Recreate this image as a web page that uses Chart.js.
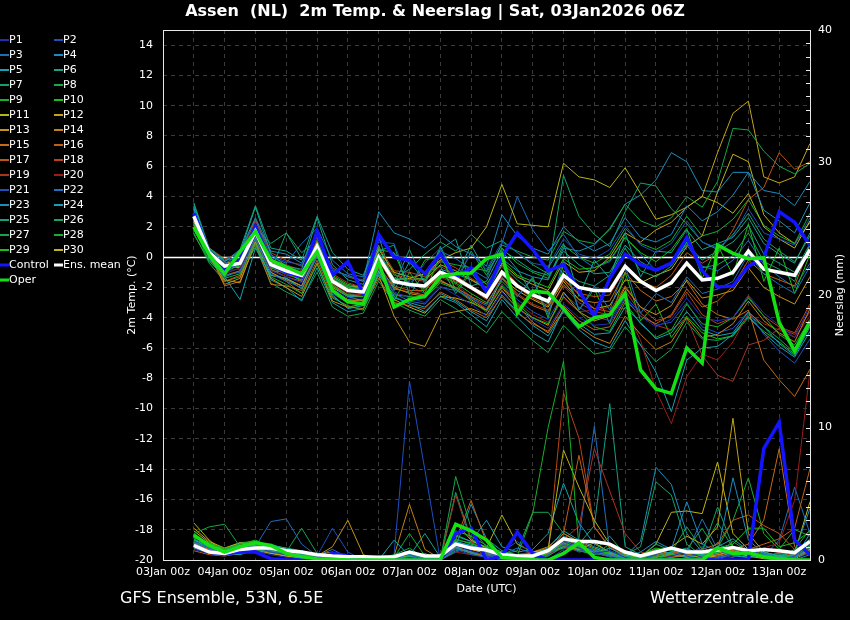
<!DOCTYPE html>
<html>
<head>
<meta charset="utf-8">
<title>Assen 2m Temp. & Neerslag</title>
<script src="https://cdn.jsdelivr.net/npm/chart.js"></script>
<style>
    html, body { margin: 0; padding: 0; background: #000; }
    #wrap { width: 850px; height: 620px; }
</style>
</head>
<body>
<div id="wrap"><canvas id="chart" width="850" height="620"></canvas></div>
<script>
// forecast hours after 03Jan 00z, every 6h
var hours = [12,18,24,30,36,42,48,54,60,66,72,78,84,90,96,102,108,114,120,126,132,
             138,144,150,156,162,168,174,180,186,192,198,204,210,216,222,228,234,240,246,252];
var dayLabels = ['03Jan 00z','04Jan 00z','05Jan 00z','06Jan 00z','07Jan 00z','08Jan 00z',
                 '09Jan 00z','10Jan 00z','11Jan 00z','12Jan 00z','13Jan 00z'];
var tempTicks = [-20,-18,-16,-14,-12,-10,-8,-6,-4,-2,0,2,4,6,8,10,12,14];
var rainTicks = [0,10,20,30,40];

// 2m temperature (°C)
var tMean = [2.7,0.3,-0.6,-0.4,1.7,-0.5,-0.9,-1.2,0.7,-1.6,-2.2,
    -2.3,0.0,-1.6,-1.8,-1.9,-1.0,-1.4,-2.0,-2.6,-1.0,
    -1.9,-2.5,-2.9,-1.2,-2.0,-2.2,-2.2,-0.6,-1.6,-2.2,
    -1.7,-0.4,-1.5,-1.4,-1.0,0.4,-0.8,-1.0,-1.2,0.5];
var tControl = [2.9,0.3,-0.9,-0.2,2.0,-0.5,-1.0,-1.3,1.7,-1.2,-0.3,
    -2.4,1.5,0.0,-0.2,-1.1,0.2,-1.3,-0.7,-2.3,0.0,
    1.6,0.5,-0.9,-0.5,-2.2,-3.9,-1.4,0.2,-0.5,-0.85,
    -0.4,1.3,-0.9,-1.97,-1.9,-0.6,-0.05,3.0,2.3,0.75];
var tOper = [2.0,0.15,-1.1,0.35,1.7,-0.2,-0.65,-1.1,0.35,-2.2,-2.95,
    -3.1,-0.35,-3.3,-2.8,-2.6,-1.3,-1.1,-1.05,-0.1,0.2,
    -3.7,-2.25,-2.35,-3.4,-4.6,-4.0,-3.8,-2.4,-7.45,-8.7,
    -9.0,-6.0,-7.0,0.8,0.25,-0.1,-0.05,-4.3,-6.2,-4.25];

var tP1 = [2.5,0.2,-0.9,-0.8,1.4,-0.9,-1.3,-1.7,0.3,-2.1,-2.7,
    -2.7,-0.5,-2.3,-2.7,-3.0,-1.9,-2.5,-3.1,-3.9,-2.3,
    -3.4,-4.1,-4.7,-3.1,-4.0,-4.5,-4.4,-2.7,-3.9,-4.6,
    -4.1,-2.7,-4.0,-4.2,-4.0,-2.5,-3.7,-4.5,-5.3,-3.2];
var tP2 = [2.9,0.4,-0.4,0.1,2.2,0.1,-0.3,-0.5,1.4,-0.8,-1.3,
    -1.5,1.0,0.9,-1.8,-0.4,0.6,-1.5,0.3,-0.8,1.0,
    0.3,-0.4,-0.6,1.2,0.2,-0.1,0.5,2.1,0.8,0.3,
    0.9,2.4,1.0,0.6,1.4,3.2,1.6,1.2,0.8,2.6];
var tP3 = [2.6,0.1,-1.2,-1.0,1.2,-1.1,-1.6,-2.0,0.0,-2.4,-3.0,
    -3.0,-0.8,-2.4,-2.9,-3.1,-2.0,-2.2,-2.7,-3.2,-1.4,
    -2.6,-1.3,-3.8,-0.2,-3.5,-1.9,-3.5,-0.6,-3.7,-2.4,
    -3.0,-1.3,-2.4,-2.1,-1.6,0.2,-1.1,-1.8,-2.4,-0.6];
var tP4 = [3.1,0.5,-0.3,0.4,2.6,0.4,0.2,-0.4,1.6,-0.9,-1.2,
    -1.6,3.0,1.6,1.2,0.6,1.5,0.7,0.2,-0.6,2.8,
    1.4,0.6,0.2,2.0,1.0,0.4,0.9,2.6,1.3,1.0,
    1.5,3.4,2.4,3.0,4.1,5.6,4.4,4.2,3.4,5.0];
var tP5 = [3.3,0.0,-1.3,-2.8,0.6,-1.2,-1.4,-2.1,0.2,-2.5,-3.4,
    -3.2,-1.0,-2.6,-3.1,-3.6,-2.6,-3.0,-3.8,-4.6,-2.8,
    -4.0,-5.0,-5.6,-3.4,-4.4,-5.1,-5.0,-3.3,-4.3,-5.4,
    -5.0,-3.6,-4.8,-5.2,-5.0,-3.6,-4.6,-5.7,-6.5,-4.6];
var tP6 = [3.5,0.4,-0.5,0.3,3.3,0.2,-0.6,-0.8,2.6,-0.5,-1.5,
    -1.8,0.8,-2.2,-0.3,-1.6,0.5,1.2,-1.9,-1.6,0.4,
    -0.8,-2.5,-0.7,0.9,-2.6,-0.2,-1.4,1.6,-1.3,0.4,
    0.3,1.8,0.5,0.9,1.3,2.6,0.9,0.2,-0.4,1.6];
var tP7 = [2.2,0.6,-0.2,-0.1,1.9,0.9,1.6,0.3,1.1,-1.3,-1.9,
    -2.1,0.4,0.8,-2.5,-1.0,-0.6,-2.4,-1.0,-2.4,-0.5,
    -1.5,-2.3,-3.1,-0.9,-1.6,-1.9,-1.2,0.6,-0.9,-1.3,
    -0.6,1.0,-0.7,-0.5,0.1,1.6,-0.3,-0.8,-1.6,0.9];
var tP8 = [2.0,0.1,-0.8,-0.6,1.5,-0.4,-0.7,-1.0,0.9,-1.4,-2.0,
    -2.2,0.3,-1.4,-1.5,-1.4,-0.3,-0.5,-0.7,-0.9,0.8,
    0.4,0.0,-0.2,1.7,1.1,0.9,1.8,3.5,2.4,2.0,
    2.6,4.0,3.3,5.0,8.5,8.4,7.0,6.0,5.5,6.2];
var tP9 = [1.5,-0.2,-1.4,-1.1,0.9,-1.3,-1.8,-2.4,-0.5,-2.7,-3.2,
    -3.5,-1.2,-2.5,-2.6,-2.7,-1.7,-2.1,-2.9,-3.6,-1.9,
    -3.1,-4.0,-4.4,-2.6,-3.6,-4.6,-4.9,-3.0,-4.4,-5.3,
    -4.8,-3.1,-4.4,-4.6,-4.0,-2.7,-3.9,-5.1,-5.8,-4.1];
var tP10 = [1.8,0.0,-1.0,-0.5,1.2,-0.7,-1.1,-1.5,0.5,-1.9,-2.5,
    -2.6,-0.3,-2.9,-1.0,-2.4,0.2,-2.2,-0.9,-1.8,-0.2,
    -1.2,-1.6,-2.0,-0.1,-0.8,-0.7,-0.2,1.3,0.3,-0.3,
    0.5,1.9,-1.4,0.8,-1.2,2.2,-1.6,0.6,-2.4,0.2];
var tP11 = [2.3,0.2,-0.5,-0.3,1.8,-0.6,-1.0,-1.2,0.8,-1.5,-2.0,
    -2.4,-0.2,-1.5,-1.4,-1.1,-0.2,0.3,0.6,2.0,4.8,
    2.2,2.1,2.0,6.2,5.3,5.1,4.6,5.9,4.2,2.5,
    2.8,3.3,4.0,3.6,2.9,4.2,2.0,1.2,0.6,2.4];
var tP12 = [2.4,0.4,-0.4,-0.2,2.0,-0.3,-0.8,-1.1,1.0,-1.3,-1.9,
    -2.0,0.5,-1.0,-1.3,-1.5,-0.5,-0.9,-1.5,-2.1,-0.4,
    -1.3,-1.8,-2.2,-0.3,-1.0,-0.9,0.0,1.6,1.0,1.8,
    2.3,3.3,4.0,6.9,9.5,10.3,5.3,4.9,5.3,7.5];
var tP13 = [2.1,0.0,-1.5,-1.7,1.0,-1.4,-2.0,-2.6,-0.4,-2.9,-3.3,
    -3.1,-1.2,-3.9,-5.6,-5.9,-3.8,-3.6,-3.4,-3.8,-2.2,
    -3.4,-4.0,-4.5,-2.3,-3.6,-4.2,-3.9,-2.0,-3.3,-3.8,
    -3.2,-1.5,-2.7,-2.5,-2.2,-0.7,-2.0,-2.6,-3.1,-1.3];
var tP14 = [2.5,0.3,-1.8,-1.4,1.3,-1.0,-1.5,-1.9,0.4,-2.2,-2.8,
    -2.9,-0.6,-2.0,-2.4,-2.6,-1.5,-2.1,-2.8,-3.5,-2.0,
    -3.2,-4.3,-5.0,-3.5,-4.6,-5.3,-5.7,-3.9,-5.1,-6.1,
    -5.6,-4.0,-5.3,-5.1,-4.4,-2.9,-4.2,-5.0,-5.6,-3.4];
var tP15 = [2.6,0.2,-1.9,-1.6,0.9,-1.8,-1.9,-2.2,0.1,-2.3,-2.9,
    -2.8,-0.7,-2.1,-2.3,-2.5,-1.6,-2.0,-2.6,-3.1,-1.4,
    -2.5,-3.2,-3.6,-1.8,-2.8,-3.0,-2.9,-1.0,-2.2,-2.9,
    -2.6,-1.6,-3.1,-3.8,-4.1,-3.5,-6.8,-8.1,-9.2,-7.4];
var tP16 = [2.8,0.1,-1.6,-1.2,1.1,-1.0,-1.6,-2.4,-0.2,-2.6,-3.3,
    -3.4,-1.4,-3.0,-3.2,-3.4,-2.3,-2.8,-3.5,-4.0,-2.6,
    -3.7,-4.4,-4.9,-3.2,-4.2,-4.8,-4.6,-2.8,-3.9,-4.4,
    -3.8,-2.1,-3.3,-2.9,-1.9,-0.2,-1.1,-1.5,-1.9,0.8];
var tP17 = [2.4,0.3,-1.2,-0.9,1.5,-0.8,-1.3,-1.6,0.6,-1.8,-2.5,
    -2.6,-0.2,-1.9,-2.2,-2.2,-1.1,-1.6,-2.1,-2.8,-1.2,
    -2.0,-2.7,-3.2,-1.5,-2.4,-2.6,-2.5,-0.7,-1.6,-2.0,
    -1.2,0.3,-0.4,0.2,1.8,3.8,4.6,6.9,5.8,6.3];
var tP18 = [2.3,0.6,-0.1,0.2,2.4,0.3,-0.2,-0.6,1.3,-0.7,-1.3,
    -1.6,0.7,-0.9,-1.0,-1.3,-0.2,-0.7,-1.4,-2.0,-0.6,
    -1.8,-2.6,-3.0,-1.4,-2.5,-3.4,-3.6,-1.9,-3.3,-4.2,
    -3.9,-2.3,-3.8,-4.4,-4.0,-2.6,-3.9,-4.6,-5.0,-3.1];
var tP19 = [2.6,0.4,-0.8,-0.3,2.1,-0.2,-0.5,-0.9,1.1,-1.1,-1.7,
    -2.0,0.3,-1.2,-1.4,-1.6,-0.6,-1.2,-1.9,-2.7,-1.3,
    -2.4,-3.1,-3.5,-1.9,-3.0,-3.6,-3.8,-2.2,-3.7,-4.5,
    -4.8,-4.0,-6.5,-7.8,-8.2,-5.8,-5.5,-4.7,-5.1,-3.6];
var tP20 = [2.7,0.1,-1.1,-0.7,1.6,-0.6,-1.2,-1.4,0.5,-1.7,-2.4,
    -2.5,-0.4,-2.4,-2.6,-2.1,-1.3,-1.8,-2.6,-3.5,-1.8,
    -3.0,-3.8,-4.3,-2.7,-3.6,-3.5,-3.3,-3.4,-5.5,-8.8,
    -11.0,-7.9,-6.4,-6.8,-5.6,-3.7,-4.4,-4.8,-5.3,-3.9];
var tP21 = [2.8,0.3,-0.7,-0.6,1.9,-0.4,-0.8,-1.2,1.0,-1.4,-2.0,
    -2.1,0.2,-1.5,-1.9,-2.4,-1.6,-2.0,-2.7,-3.4,-1.8,
    -2.8,-3.6,-4.1,-2.4,-3.3,-3.9,-4.2,-2.6,-3.7,-4.5,
    -4.3,-3.0,-4.6,-5.0,-4.7,-3.6,-5.1,-6.2,-7.0,-5.4];
var tP22 = [3.0,0.5,-0.2,0.3,2.5,0.0,-0.4,0.9,1.9,-0.2,-1.1,
    -1.3,1.2,0.2,-0.4,-1.0,0.4,-0.1,-0.8,-1.4,0.9,
    4.0,1.8,0.4,1.5,0.0,-0.7,-0.3,1.3,0.2,-0.9,
    -0.5,0.8,-0.6,-0.9,-0.2,1.1,-0.5,-1.3,-2.0,-0.4];
var tP23 = [3.2,0.2,-0.9,-0.4,1.8,-0.9,-1.0,-1.6,0.4,-1.9,-2.6,
    -2.6,-0.1,-1.7,-1.9,-2.0,-0.8,-1.1,-1.5,-2.0,-0.1,
    -0.9,-1.3,-1.5,0.6,0.4,0.8,1.9,3.5,4.1,5.1,
    6.9,6.3,4.4,4.3,5.6,5.6,3.1,2.4,1.6,3.6];
var tP24 = [2.9,-0.1,-1.3,-0.9,1.0,-1.5,-2.0,-2.9,-0.7,-3.0,-3.6,
    -3.4,-1.1,-2.7,-3.0,-3.3,-2.4,-2.9,-3.6,-4.2,-2.5,
    -3.6,-4.5,-5.2,-3.6,-4.8,-5.6,-6.0,-4.2,-5.8,-7.6,
    -10.2,-6.8,-6.0,-5.9,-5.1,-3.9,-5.0,-5.9,-6.6,-4.9];
var tP25 = [3.6,0.6,-0.3,0.5,3.4,0.6,0.4,-0.2,2.7,0.3,-0.8,
    -1.2,1.4,-1.9,0.5,-1.8,0.7,-1.3,0.8,-1.0,0.5,
    -0.2,-0.9,-1.2,0.4,-0.5,-1.1,-1.0,0.8,-0.3,-0.9,
    -0.4,0.9,-0.2,0.4,1.0,2.1,0.2,-0.4,-1.0,0.9];
var tP26 = [2.0,-0.3,-1.1,-0.2,0.8,-0.9,1.6,-0.1,0.2,-1.8,-2.5,
    -2.4,0.1,-1.4,-0.8,0.2,1.0,0.4,1.5,0.6,1.1,
    0.3,-0.5,-1.1,5.4,2.7,1.5,0.7,3.0,4.9,4.7,
    3.2,2.2,1.0,0.5,1.5,2.9,1.2,0.4,-0.3,1.4];
var tP27 = [1.6,-0.4,-1.6,-1.3,0.7,-1.7,-2.3,-2.8,-1.0,-3.3,-3.9,
    -3.7,-1.6,-3.0,-3.5,-3.9,-2.8,-3.4,-4.2,-5.0,-3.6,
    -4.6,-5.5,-6.3,-4.5,-5.5,-6.4,-6.2,-4.6,-5.8,-6.9,
    -6.1,-4.3,-5.4,-5.5,-5.2,-3.8,-4.6,-5.4,-6.3,-4.4];
var tP28 = [2.2,0.0,-0.9,-0.3,1.6,-0.6,-1.0,-1.3,0.8,-1.5,-2.1,
    -2.0,0.5,0.3,-2.0,-0.2,0.1,-1.8,0.4,-1.2,0.6,
    -0.4,-1.0,-1.4,0.8,0.0,-0.4,0.2,1.9,0.9,0.5,
    1.1,2.7,1.4,1.7,2.5,3.8,2.1,1.4,0.9,2.9];
var tP29 = [1.9,0.1,-0.7,-0.4,1.5,-0.2,-0.8,-1.0,0.9,-1.2,-1.8,
    -2.0,0.6,-1.1,-1.7,-2.1,-1.2,-1.7,-2.4,-3.0,-1.6,
    -2.6,-1.4,-4.0,-0.5,-3.5,-2.1,-4.4,-1.0,-4.2,-3.1,
    -5.3,-3.9,-5.0,-5.4,-5.2,-4.0,-4.9,-5.6,-6.4,-4.5];
var tP30 = [2.4,0.2,-0.6,-0.7,1.4,-1.2,-1.4,-1.9,0.3,-2.0,-2.6,
    -2.9,-0.9,-2.8,-3.3,-3.7,-2.6,-2.7,-3.0,-3.5,-1.4,
    -2.2,-2.8,-3.3,-1.6,-2.8,-3.4,-3.2,-1.5,-1.7,-1.2,
    -0.8,0.7,1.4,4.3,6.8,6.3,2.8,1.6,0.9,2.3];

// precipitation per 6h (mm)
var pMean = [1.1,0.6,0.5,0.8,0.9,0.9,0.7,0.6,0.4,0.3,0.25,
    0.25,0.2,0.25,0.6,0.3,0.3,1.2,0.9,0.75,0.4,
    0.3,0.3,0.7,1.6,1.4,1.4,1.2,0.6,0.3,0.6,
    0.9,0.6,0.6,0.75,0.95,0.7,0.8,0.7,0.55,1.4];
var pControl = [1.1,0.6,0.5,0.6,0.6,0.1,0.0,0.0,0.1,0.5,0.3,
    0.0,0.0,0.0,0.0,0.0,0.0,2.0,2.4,0.0,0.3,
    2.1,0.5,0.0,0.0,0.0,0.0,0.0,0.0,0.0,0.0,
    0.0,0.0,0.0,0.0,0.0,0.0,8.4,10.4,1.5,0.4];
var pOper = [1.9,1.1,0.6,1.0,1.3,1.1,0.5,0.25,0.1,0.05,0.0,
    0.0,0.0,0.0,0.0,0.0,0.0,2.7,2.2,1.5,0.2,
    0.1,0.0,0.0,0.5,1.3,0.2,0.0,0.0,0.0,0.0,
    0.0,0.0,0.0,0.9,0.5,0.55,0.25,0.1,0.0,0.0];

var pP1 = [0.8,0.5,0.3,0.6,0.7,0.4,0.2,0.1,0.0,0.2, 0.0,0.0,0.0,0.0,0.2,0.0,0.0,1.1,0.7,0.3, 0.0,0.0,0.3,0.6,1.4,0.9,0.5,0.7,0.2,0.0, 0.0,0.3,0.6,0.2,0.0,0.4,0.9,0.3,0.1,0.0, 0.6];
var pP2 = [1.2,0.7,0.4,0.9,1.0,0.6,0.4,0.2,0.3,2.4, 0.6,0.0,0.0,0.2,0.4,0.0,0.1,0.8,0.4,0.2, 0.6,1.4,0.4,0.0,0.8,1.6,0.6,0.2,0.0,0.0, 0.4,1.0,0.3,0.0,0.2,0.5,0.7,0.2,0.0,0.3, 1.2];
var pP3 = [1.4,0.9,0.6,0.7,1.0,2.9,3.1,1.2,0.3,0.1, 0.0,0.0,0.3,0.0,0.5,0.2,0.0,0.6,1.0,0.5, 0.2,0.0,0.0,0.4,1.2,0.6,0.8,0.3,0.1,0.0, 0.5,0.8,0.4,1.0,0.3,0.2,0.6,0.4,0.0,0.2, 0.9];
var pP4 = [1.0,0.6,0.7,1.1,0.9,0.7,0.5,0.3,0.2,0.1, 0.2,0.0,0.0,0.2,0.6,0.0,0.0,0.9,0.6,0.4, 0.0,0.3,0.2,0.6,1.8,1.2,0.6,0.4,0.2,0.6, 1.4,0.8,4.4,1.2,0.6,6.2,1.5,0.5,0.2,0.0, 0.4];
var pP5 = [1.6,0.8,0.5,0.4,0.8,1.2,0.8,0.6,0.4,0.3, 0.1,0.0,0.0,1.5,0.3,0.0,0.2,1.4,1.1,0.8, 0.3,0.2,0.4,0.9,2.2,1.5,1.0,0.6,0.0,0.2, 0.8,0.5,0.2,0.4,0.8,0.3,0.2,0.6,0.3,0.1, 2.0];
var pP6 = [0.9,0.5,0.4,0.8,0.6,0.9,0.6,0.4,0.2,0.4, 0.2,0.1,0.0,0.0,0.3,2.0,0.2,1.0,0.5,0.2, 0.1,0.0,0.2,0.7,1.5,0.9,0.4,0.9,0.3,0.1, 0.0,0.6,0.9,0.3,1.3,0.4,0.2,0.3,0.5,0.2, 0.7];
var pP7 = [1.3,1.0,0.7,0.9,1.2,0.8,0.5,0.4,0.3,0.2, 0.1,0.0,0.2,0.0,0.6,0.2,0.0,0.7,0.9,0.6, 0.3,0.1,0.4,0.6,0.9,1.1,0.7,1.8,0.4,1.0, 5.9,4.9,1.2,0.3,0.6,1.0,0.4,0.2,0.1,0.5, 1.6];
var pP8 = [2.0,2.5,2.7,1.0,0.8,0.6,0.5,0.3,0.2,0.1, 0.0,0.0,0.1,0.4,0.9,0.1,0.0,6.3,2.4,1.0, 0.4,0.2,0.1,0.3,1.0,0.7,0.4,1.2,0.5,0.2, 0.3,0.6,0.8,2.4,0.5,1.4,0.6,0.3,0.2,0.8, 2.3];
var pP9 = [1.5,1.2,0.9,1.1,1.4,1.0,0.7,0.5,0.3,0.2, 0.0,0.0,0.0,0.2,0.5,0.0,0.0,1.6,1.2,0.9, 0.5,0.3,3.5,10.0,15.0,1.0,0.5,0.3,0.1,0.0, 0.2,0.4,0.6,0.3,0.1,0.4,0.9,0.5,0.2,0.3, 1.1];
var pP10 = [1.7,1.3,0.8,1.2,1.5,1.0,0.8,0.6,0.4,0.1, 0.0,0.0,0.0,0.0,0.3,0.0,0.3,2.2,1.8,1.1, 0.6,0.4,0.2,0.5,1.3,0.9,0.5,0.6,0.2,0.4, 0.9,0.7,0.5,0.4,0.9,1.2,2.4,2.4,1.0,1.3, 2.2];
var pP11 = [2.8,1.5,0.6,0.8,0.7,0.5,0.3,0.1,0.0,0.2, 0.0,0.0,0.0,0.2,0.3,0.0,0.0,2.8,1.5,0.9, 3.4,1.2,0.6,0.8,8.3,5.5,3.0,1.2,0.4,0.2, 0.5,0.9,0.6,0.4,0.2,0.6,0.3,0.1,0.0,0.2, 0.8];
var pP12 = [2.4,1.4,0.9,1.3,1.1,0.7,0.5,0.3,0.4,0.6, 0.3,0.0,0.0,0.0,0.2,0.0,0.0,1.3,0.8,0.5, 0.2,0.0,0.2,0.5,1.0,0.8,1.3,0.6,0.2,0.3, 0.6,1.0,1.8,1.2,2.5,10.7,2.0,0.6,0.3,0.2, 0.9];
var pP13 = [1.9,1.0,0.7,1.0,1.3,0.9,0.6,0.5,0.3,1.0, 3.0,0.4,0.0,0.0,0.4,0.0,0.2,1.0,0.6,0.3, 0.1,0.0,0.3,0.4,1.4,0.9,0.6,0.4,0.2,0.0, 0.2,0.5,0.3,0.2,0.4,0.7,0.5,0.3,0.2,0.1, 0.6];
var pP14 = [1.1,0.8,0.6,0.8,1.0,0.8,0.4,0.2,0.1,0.0, 0.3,0.0,0.0,0.3,4.2,0.8,0.1,1.2,0.9,0.6, 0.3,0.2,0.6,1.0,2.0,1.4,0.9,0.5,0.3,0.4, 0.8,0.4,0.2,0.3,0.5,0.9,0.4,0.3,0.1,0.4, 1.0];
var pP15 = [1.3,0.7,0.5,0.6,0.8,0.6,0.3,0.2,0.1,0.1, 0.0,0.0,0.0,0.1,0.3,0.0,0.0,0.9,0.5,0.3, 0.0,0.1,0.4,0.7,1.6,1.1,0.6,0.3,0.2,0.1, 0.3,0.2,0.4,0.6,0.3,0.8,1.2,3.0,8.4,1.0, 0.5];
var pP16 = [1.0,0.6,0.4,0.7,0.9,0.7,0.4,0.3,0.2,0.1, 0.1,0.0,0.0,0.2,0.4,0.0,0.0,1.5,4.5,1.3, 0.4,0.2,0.5,0.6,2.0,7.9,2.5,0.9,0.3,0.2, 0.6,0.4,0.3,0.5,1.0,0.6,0.8,1.2,1.6,2.4, 6.9];
var pP17 = [0.7,0.4,0.3,0.5,0.6,0.5,0.3,0.2,0.1,0.0, 0.0,0.0,0.0,0.0,0.2,0.0,0.0,0.8,0.6,0.4, 0.2,0.1,0.3,0.8,1.2,0.9,0.7,0.5,0.2,0.1, 0.4,0.6,0.5,0.8,1.2,3.0,3.4,2.6,2.0,0.8, 0.4];
var pP18 = [1.4,0.9,0.7,1.2,1.4,1.0,0.8,0.6,0.5,0.2, 0.1,0.0,0.0,0.0,0.3,0.0,0.1,1.2,0.8,0.5, 0.3,0.2,0.3,0.5,12.6,9.2,2.5,1.0,0.4,0.2, 0.5,0.3,0.6,0.4,0.2,0.5,0.3,0.2,0.1,0.3, 0.7];
var pP19 = [1.2,0.8,0.6,1.0,1.1,0.8,0.5,0.4,0.2,0.1, 0.0,0.0,0.0,0.0,0.2,0.0,0.0,4.9,1.4,0.6, 0.3,0.4,0.6,0.9,1.6,2.5,8.4,5.2,2.0,0.6, 0.3,0.2,0.4,0.6,0.3,0.7,0.5,0.2,0.6,0.3, 0.5];
var pP20 = [0.9,0.6,0.5,0.8,0.9,0.6,0.4,0.3,0.2,0.1, 0.0,0.0,0.0,0.0,0.1,0.0,0.0,0.6,0.4,0.3, 0.1,0.0,0.2,0.4,0.9,0.7,0.5,0.4,0.3,0.2, 0.1,0.2,0.3,0.5,0.4,0.3,0.6,0.9,1.3,4.5, 14.3];
var pP21 = [1.0,0.7,0.5,0.7,0.8,0.5,0.3,0.2,0.1,0.0, 0.0,0.0,0.0,0.4,13.5,6.8,0.0,0.9,1.0,0.5, 0.2,0.4,0.6,0.3,1.1,0.8,0.5,0.3,0.1,0.0, 0.2,0.4,0.3,0.2,0.4,0.6,0.3,0.5,0.2,0.4, 0.8];
var pP22 = [1.3,0.9,0.6,0.9,1.0,0.8,0.6,0.4,0.3,0.8, 0.2,0.0,0.0,0.3,0.5,0.2,0.0,1.3,1.1,0.7, 0.4,0.9,0.5,0.6,1.2,1.6,10.1,0.7,0.3,0.2, 0.6,0.9,0.5,3.1,0.8,0.6,0.4,0.3,1.5,5.5, 2.0];
var pP23 = [1.1,0.6,0.4,0.6,0.7,0.6,0.4,0.2,0.1,0.0, 0.0,0.0,0.0,0.2,0.3,0.0,0.0,1.0,4.2,1.6, 0.7,0.3,0.4,0.8,1.3,1.0,0.6,0.4,0.3,1.4, 7.0,5.7,2.0,0.6,0.5,0.8,0.5,0.3,0.2,0.6, 3.9];
var pP24 = [1.5,1.0,0.8,1.3,1.2,0.9,0.7,0.5,0.3,0.2, 0.1,0.0,0.0,0.0,0.2,0.0,0.0,1.8,1.4,3.0, 1.0,0.6,0.8,2.0,5.8,2.8,1.2,0.6,0.3,0.2, 0.4,0.6,0.8,0.4,1.0,1.6,0.7,0.4,0.3,0.5, 1.2];
var pP25 = [1.8,1.1,0.8,1.0,1.3,1.1,0.9,0.7,0.4,0.3, 0.1,0.0,0.0,0.1,0.4,0.0,0.0,1.4,1.0,0.6, 0.3,0.2,0.5,0.9,1.5,1.2,2.6,11.8,1.0,0.4, 0.6,0.4,0.3,0.5,0.8,0.5,0.6,0.4,0.3,0.2, 0.9];
var pP26 = [1.6,1.0,0.7,1.1,1.0,0.8,0.6,0.4,0.3,0.2, 0.0,0.0,0.2,0.0,0.3,0.5,0.0,5.1,1.6,0.9, 0.5,0.3,0.2,0.6,1.2,0.8,0.5,0.9,0.4,0.3, 1.2,0.7,0.4,0.6,4.0,1.0,0.5,0.3,0.4,0.7, 1.5];
var pP27 = [1.2,0.9,0.7,0.8,1.1,0.9,0.6,2.4,0.5,0.2, 0.1,0.0,0.0,0.0,0.5,0.1,0.0,1.1,0.8,0.6, 0.4,0.7,3.6,3.6,2.0,1.3,0.8,0.5,0.2,0.1, 0.3,0.6,2.5,0.8,2.8,0.9,0.5,0.3,0.2,0.4, 1.0];
var pP28 = [1.4,0.9,0.6,0.9,1.2,1.0,0.7,0.5,0.3,0.1, 0.0,0.0,0.0,0.2,2.0,0.3,0.0,1.5,1.3,0.8, 0.5,0.3,0.4,0.7,1.1,0.9,0.6,0.4,0.2,0.1, 0.5,0.8,0.6,0.4,0.9,3.0,6.2,2.0,0.8,2.3, 1.8];
var pP29 = [1.7,1.2,0.9,1.3,1.4,1.1,0.9,0.6,0.4,0.2, 0.1,0.0,0.0,0.0,0.3,0.0,0.2,1.9,1.4,1.0, 0.6,0.4,0.3,0.6,1.0,0.7,0.5,0.3,0.2,0.1, 0.4,0.6,0.5,0.3,0.6,0.8,0.4,0.2,0.1,0.2, 0.7];
var pP30 = [2.2,1.3,0.8,1.1,1.0,0.7,0.5,0.3,0.2,0.1, 0.0,0.0,0.0,0.0,0.4,0.0,0.0,1.2,0.9,0.6, 0.3,0.2,0.4,0.7,1.3,1.0,0.7,0.5,0.3,0.2, 1.2,3.6,3.7,3.5,7.4,2.0,0.8,0.4,0.3,0.5, 4.4];

var tempMembers = [tP1,tP2,tP3,tP4,tP5,tP6,tP7,tP8,tP9,tP10,tP11,tP12,tP13,tP14,tP15,
                   tP16,tP17,tP18,tP19,tP20,tP21,tP22,tP23,tP24,tP25,tP26,tP27,tP28,tP29,tP30];
var rainMembers = [pP1,pP2,pP3,pP4,pP5,pP6,pP7,pP8,pP9,pP10,pP11,pP12,pP13,pP14,pP15,
                   pP16,pP17,pP18,pP19,pP20,pP21,pP22,pP23,pP24,pP25,pP26,pP27,pP28,pP29,pP30];

var memberColors = ['#1f2fb5','#1f4fb8','#1f6cb8','#1a8cbf','#14a3b3','#14a38a','#14a366','#14a846',
                    '#16b02a','#14c014','#b8b414','#c4a414','#c49414','#c48014','#c46c14','#c06014',
                    '#c05414','#b84418','#a83420','#9c1c1c','#1f4fc0','#1f70c0','#1a90b8','#14a0b0',
                    '#14a084','#14a468','#14a44c','#14ac34','#16c018','#c0b414'];
var controlColor = '#1414ff';
var meanColor = '#ffffff';
var operColor = '#14e014';

function pts(arr) {
    return hours.map(function (h, i) { return { x: h, y: arr[i] }; });
}

var datasets = [];
for (var i = 0; i < 30; i++) {
    datasets.push({ label: 'P' + (i + 1), data: pts(tempMembers[i]), yAxisID: 'y',
                    borderColor: memberColors[i], borderWidth: 1, order: 10 });
    datasets.push({ label: 'P' + (i + 1) + ' rr', data: pts(rainMembers[i]), yAxisID: 'y2',
                    borderColor: memberColors[i], borderWidth: 1, order: 10 });
}
datasets.push({ label: 'Control', data: pts(tControl), yAxisID: 'y', borderColor: controlColor, borderWidth: 3.5, order: 3 });
datasets.push({ label: 'Control rr', data: pts(pControl), yAxisID: 'y2', borderColor: controlColor, borderWidth: 3.5, order: 3 });
datasets.push({ label: 'Ens. mean', data: pts(tMean), yAxisID: 'y', borderColor: meanColor, borderWidth: 3.5, order: 2 });
datasets.push({ label: 'Ens. mean rr', data: pts(pMean), yAxisID: 'y2', borderColor: meanColor, borderWidth: 3.5, order: 2 });
datasets.push({ label: 'Oper', data: pts(tOper), yAxisID: 'y', borderColor: operColor, borderWidth: 3.5, order: 1 });
datasets.push({ label: 'Oper rr', data: pts(pOper), yAxisID: 'y2', borderColor: operColor, borderWidth: 3.5, order: 1 });

var legendNames = [], legendColors = [];
for (var k = 0; k < 30; k++) { legendNames.push('P' + (k + 1)); legendColors.push(memberColors[k]); }
legendNames.push('Control', 'Ens. mean', 'Oper');
legendColors.push(controlColor, meanColor, operColor);

var font = 'DejaVu Sans';

// frame, zero line, legend and captions
var decor = {
    id: 'decor',
    beforeDraw: function (chart) {
        var c = chart.ctx;
        c.save();
        c.fillStyle = '#000';
        c.fillRect(0, 0, chart.width, chart.height);
        c.restore();
    },
    beforeDatasetsDraw: function (chart) {
        var a = chart.chartArea, c = chart.ctx;
        var y0 = Math.round(chart.scales.y.getPixelForValue(0)) + 0.5;
        c.save();
        c.strokeStyle = '#ffffff';
        c.lineWidth = 1.5;
        c.beginPath();
        c.moveTo(a.left, y0);
        c.lineTo(a.right, y0);
        c.stroke();
        c.restore();
    },
    afterDraw: function (chart) {
        var a = chart.chartArea, c = chart.ctx, y2 = chart.scales.y2;
        c.save();
        // plot frame
        c.strokeStyle = '#e8e8e8';
        c.lineWidth = 1;
        c.strokeRect(Math.round(a.left) + 0.5, Math.round(a.top) + 0.5,
                     Math.round(a.right - a.left), Math.round(a.bottom - a.top));
        // minor ticks on the rain axis
        for (var v = 1; v < 40; v++) {
            var yy = Math.round(y2.getPixelForValue(v)) + 0.5;
            c.beginPath();
            c.moveTo(a.right - 4, yy);
            c.lineTo(a.right, yy);
            c.stroke();
        }
        c.fillStyle = '#ffffff';
        // title
        c.font = 'bold 16px ' + font;
        c.textAlign = 'center';
        c.textBaseline = 'middle';
        c.fillText('Assen  (NL)  2m Temp. & Neerslag | Sat, 03Jan2026 06Z', 435, 12);
        // axis titles
        c.font = '11px ' + font;
        c.fillText('Date (UTC)', (a.left + a.right) / 2, 589);
        c.save();
        c.translate(132, 295);
        c.rotate(-Math.PI / 2);
        c.fillText('2m Temp. (\u00b0C)', 0, 0);
        c.restore();
        c.save();
        c.translate(840, 295);
        c.rotate(-Math.PI / 2);
        c.fillText('Neerslag (mm)', 0, 0);
        c.restore();
        // footer
        c.font = '16px ' + font;
        c.textAlign = 'left';
        c.fillText('GFS Ensemble, 53N, 6.5E', 120, 599);
        c.fillText('Wetterzentrale.de', 650, 599);
        // legend
        c.font = '11px ' + font;
        for (var n = 0; n < legendNames.length; n++) {
            var col = n % 2, row = Math.floor(n / 2);
            var x0 = col ? 54 : 0, yl = 40 + row * 15;
            c.strokeStyle = legendColors[n];
            c.lineWidth = (n >= 30) ? 3 : 2;
            c.beginPath();
            c.moveTo(x0, yl);
            c.lineTo(x0 + 9, yl);
            c.stroke();
            c.fillStyle = '#ffffff';
            c.fillText(legendNames[n], x0 + 9, yl);
        }
        c.restore();
    }
};

Chart.defaults.font.family = font;
Chart.defaults.font.size = 11;
Chart.defaults.color = '#ffffff';

new Chart(document.getElementById('chart'), {
    type: 'line',
    data: { datasets: datasets },
    options: {
        responsive: false,
        animation: false,
        devicePixelRatio: 1,
        layout: { padding: { left: 120, top: 30, right: 0, bottom: 0 } },
        elements: { point: { radius: 0 }, line: { tension: 0, fill: false } },
        plugins: { legend: { display: false }, tooltip: { enabled: false } },
        scales: {
            x: {
                type: 'linear', min: 0, max: 252,
                afterFit: function (s) { s.height = 60; },
                ticks: {
                    stepSize: 12, autoSkip: false, maxRotation: 0, padding: 6, color: '#ffffff',
                    callback: function (v) { return v % 24 === 0 ? dayLabels[v / 24] : ''; }
                },
                grid: { color: '#3a3a3a', drawTicks: false },
                border: { display: false, dash: [4, 4] }
            },
            y: {
                position: 'left', min: -20, max: 15,
                afterFit: function (s) { s.width = 43; },
                afterBuildTicks: function (s) {
                    s.ticks = tempTicks.map(function (v) { return { value: v }; });
                },
                ticks: { padding: 10, color: '#ffffff' },
                grid: { color: '#3a3a3a', drawTicks: false },
                border: { display: false, dash: [4, 4] }
            },
            y2: {
                position: 'right', min: 0, max: 40,
                afterFit: function (s) { s.width = 40; },
                afterBuildTicks: function (s) {
                    s.ticks = rainTicks.map(function (v) { return { value: v }; });
                },
                ticks: { padding: 8, color: '#ffffff' },
                grid: { drawOnChartArea: false, drawTicks: false },
                border: { display: false }
            }
        }
    },
    plugins: [decor]
});
</script>
</body>
</html>
